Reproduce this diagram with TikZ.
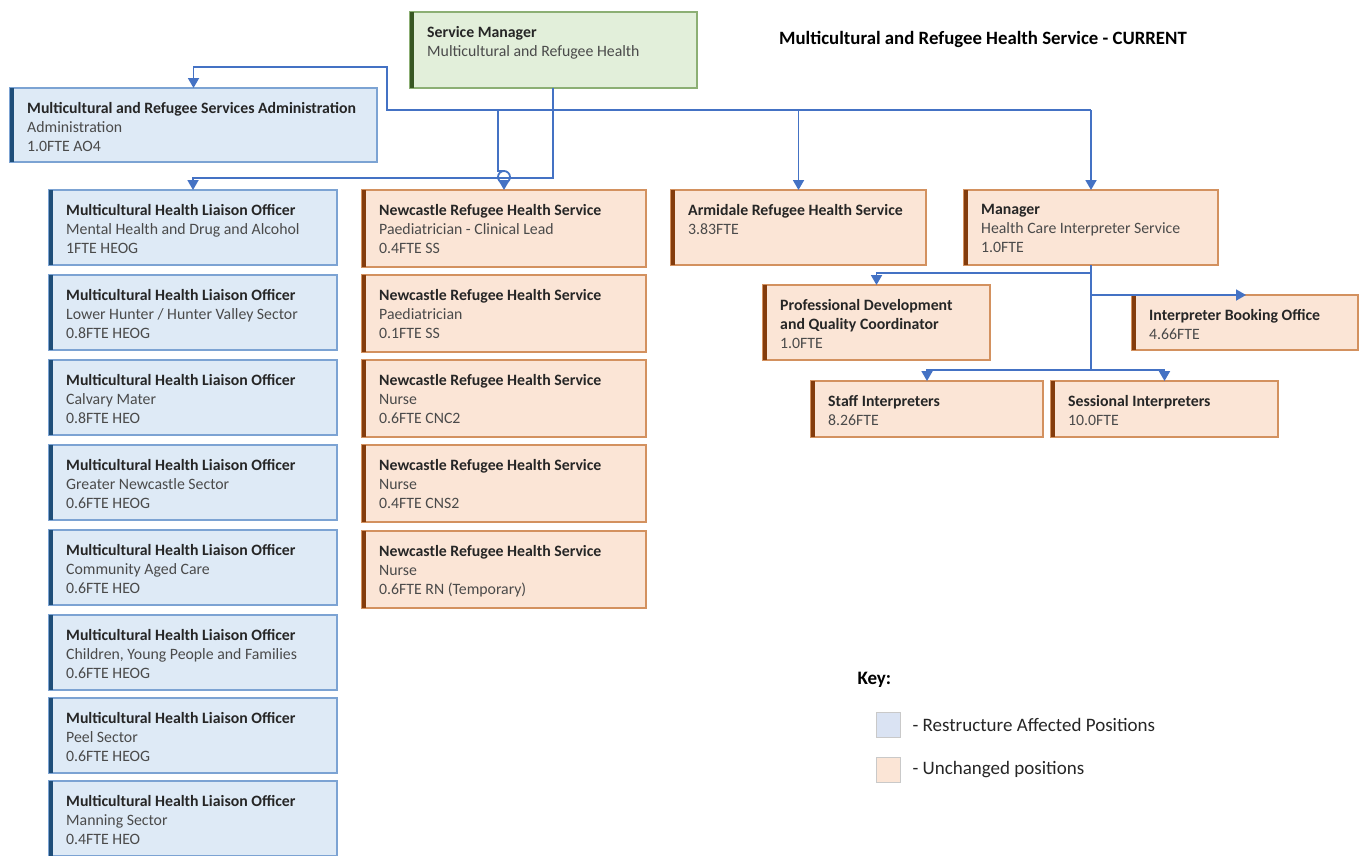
\documentclass[tikz,border=0pt]{standalone}
\usepackage{fontspec}
\setmainfont{Carlito}
\usetikzlibrary{arrows.meta}
\definecolor{bfill}{HTML}{DEEAF6}
\definecolor{bline}{HTML}{7CA3D3}
\definecolor{bbar}{HTML}{1F4E79}
\definecolor{ofill}{HTML}{FBE5D6}
\definecolor{oline}{HTML}{D3915F}
\definecolor{obar}{HTML}{843C0C}
\definecolor{gfill}{HTML}{E2EFDA}
\definecolor{gline}{HTML}{8CAF74}
\definecolor{gbar}{HTML}{385723}
\definecolor{connc}{HTML}{4472C4}
\definecolor{tdark}{HTML}{262626}
\definecolor{tgrey}{HTML}{4A4A4A}
\definecolor{keyb}{HTML}{DAE3F3}
\definecolor{keyline}{HTML}{C9C9C9}
\newcommand{\boxttl}[1]{\textbf{\textcolor{tdark}{#1}}}
\newcommand{\orgbox}[8]{%
  \node[box,#6,minimum width=#4,minimum height=#5,anchor=north west] (#1) at (#2,#3) {};
  \fill[#7] (#1.north west) rectangle ([xshift=4pt]#1.south west);
  \node[boxtext,anchor=north west] (#1t) at ([xshift=17pt,yshift=-14pt]#1.north west) {#8};
}
\tikzset{
  box/.style={rectangle,inner sep=0pt,outer sep=0pt,line width=1.3pt},
  bluebox/.style={fill=bfill,draw=bline},
  orangebox/.style={fill=ofill,draw=oline},
  greenbox/.style={fill=gfill,draw=gline},
  boxtext/.style={inner sep=0pt,align=left,text=tgrey,font=\fontsize{15.8}{19}\selectfont},
  conn/.style={draw=connc,line width=1.8pt},
  arr/.style={conn,-{Triangle[width=11pt,length=10pt]}},
  keysq/.style={rectangle,draw=keyline,line width=0.8pt,minimum width=24,minimum height=25,inner sep=0pt,anchor=north west},
  keytext/.style={font=\fontsize{19}{22}\selectfont,text=tdark,anchor=west},
}
\begin{document}
\begin{tikzpicture}[x=1pt,y=-1pt]
\useasboundingbox[fill=white] (0,0) rectangle (1364,855);
% top
\orgbox{sm}{410}{12}{287}{76}{greenbox}{gbar}{\boxttl{Service Manager}\\Multicultural and Refugee Health}
\node[font=\bfseries\fontsize{18.8}{22}\selectfont,text=black,anchor=center] (title) at (983,39) {Multicultural and Refugee Health Service - CURRENT};
\orgbox{adm}{10}{88}{367}{74}{bluebox}{bbar}{\boxttl{Multicultural and Refugee Services Administration}\\Administration\\1.0FTE AO4}
% left column
\orgbox{m1}{49}{190}{288}{75}{bluebox}{bbar}{\boxttl{Multicultural Health Liaison Officer}\\Mental Health and Drug and Alcohol\\1FTE HEOG}
\orgbox{m2}{49}{275}{288}{75}{bluebox}{bbar}{\boxttl{Multicultural Health Liaison Officer}\\Lower Hunter / Hunter Valley Sector\\0.8FTE HEOG}
\orgbox{m3}{49}{360}{288}{75}{bluebox}{bbar}{\boxttl{Multicultural Health Liaison Officer}\\Calvary Mater\\0.8FTE HEO}
\orgbox{m4}{49}{445}{288}{75}{bluebox}{bbar}{\boxttl{Multicultural Health Liaison Officer}\\Greater Newcastle Sector\\0.6FTE HEOG}
\orgbox{m5}{49}{530}{288}{75}{bluebox}{bbar}{\boxttl{Multicultural Health Liaison Officer}\\Community Aged Care\\0.6FTE HEO}
\orgbox{m6}{49}{615}{288}{75}{bluebox}{bbar}{\boxttl{Multicultural Health Liaison Officer}\\Children, Young People and Families\\0.6FTE HEOG}
\orgbox{m7}{49}{698}{288}{75}{bluebox}{bbar}{\boxttl{Multicultural Health Liaison Officer}\\Peel Sector\\0.6FTE HEOG}
\orgbox{m8}{49}{781}{288}{75}{bluebox}{bbar}{\boxttl{Multicultural Health Liaison Officer}\\Manning Sector\\0.4FTE HEO}
% middle column
\orgbox{n1}{362}{190}{284}{77}{orangebox}{obar}{\boxttl{Newcastle Refugee Health Service}\\Paediatrician - Clinical Lead\\0.4FTE SS}
\orgbox{n2}{362}{275}{284}{77}{orangebox}{obar}{\boxttl{Newcastle Refugee Health Service}\\Paediatrician\\0.1FTE SS}
\orgbox{n3}{362}{360}{284}{77}{orangebox}{obar}{\boxttl{Newcastle Refugee Health Service}\\Nurse\\0.6FTE CNC2}
\orgbox{n4}{362}{445}{284}{77}{orangebox}{obar}{\boxttl{Newcastle Refugee Health Service}\\Nurse\\0.4FTE CNS2}
\orgbox{n5}{362}{531}{284}{77}{orangebox}{obar}{\boxttl{Newcastle Refugee Health Service}\\Nurse\\0.6FTE RN (Temporary)}
% right part
\orgbox{arm}{671}{190}{255}{75}{orangebox}{obar}{\boxttl{Armidale Refugee Health Service}\\3.83FTE}
\orgbox{mgr}{964}{190}{254}{75}{orangebox}{obar}{\boxttl{Manager}\\Health Care Interpreter Service\\1.0FTE}
\orgbox{pd}{763}{285}{227}{75}{orangebox}{obar}{\boxttl{Professional Development}\\\boxttl{and Quality Coordinator}\\1.0FTE}
\orgbox{ibo}{1132}{295}{226}{55}{orangebox}{obar}{\boxttl{Interpreter Booking Office}\\4.66FTE}
\orgbox{stf}{811}{381}{232}{56}{orangebox}{obar}{\boxttl{Staff Interpreters}\\8.26FTE}
\orgbox{ses}{1051}{381}{227}{56}{orangebox}{obar}{\boxttl{Sessional Interpreters}\\10.0FTE}
% connectors
\coordinate (smj) at (553,110);
\draw[arr] (sm.south -| smj) -- (553,178) -| (m1.north);
\draw[arr] (smj) -- (387,110) -- (387,67) -| (adm.north);
\draw[arr] (smj) -| (arm.north);
\draw[conn] (smj) -- (1091,110);
\draw[arr] (1091,110) -- (mgr.north);
\draw[arr] (498,110) -- (498,171) -- (504,171) arc[start angle=-90,end angle=90,radius=6] -- (n1.north);
\draw[conn] (504,171) arc[start angle=-90,end angle=-270,radius=6];
% manager subtree
\draw[conn] (mgr.south) -- (1091,370);
\draw[arr] (1091,273) -| (pd.north);
\draw[arr] (1091,295) -- (1246,295);
\draw[arr] (1091,370) -| (stf.north);
\draw[arr] (1091,370) -| (ses.north);
% key
\node[font=\bfseries\fontsize{19}{22}\selectfont,text=black,anchor=west] (keyt) at (854,680) {Key:};
\node[keysq,fill=keyb] (k1) at (876,712) {};
\node[keytext] (k1t) at (909,725) {- Restructure Affected Positions};
\node[keysq,fill=ofill] (k2) at (876,757) {};
\node[keytext] (k2t) at (909,770) {- Unchanged positions};
\end{tikzpicture}
\end{document}
